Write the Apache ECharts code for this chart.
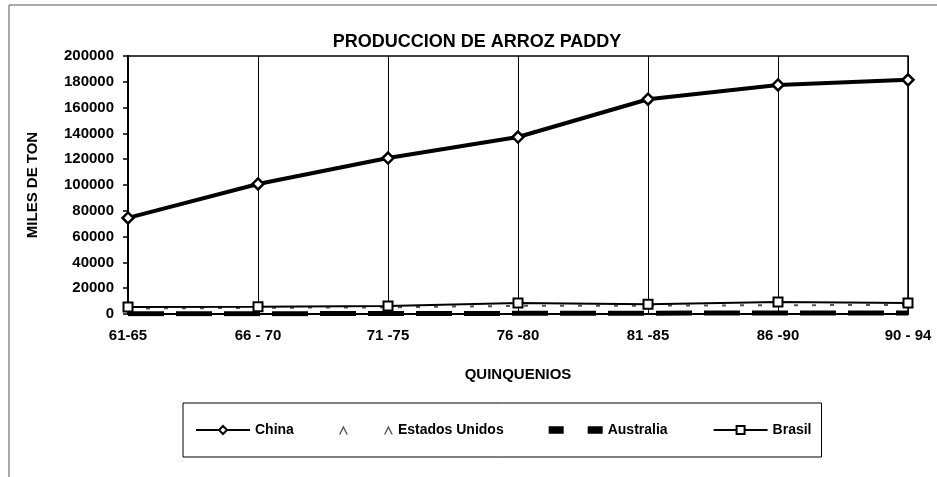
<!DOCTYPE html>
<html>
<head>
<meta charset="utf-8">
<script src="https://cdn.jsdelivr.net/npm/echarts@6/dist/echarts.min.js"></script>
<style>
  html, body { margin: 0; padding: 0; background: #fff; }
  #chart { width: 937px; height: 477px; }
</style>
</head>
<body>
<div id="chart"></div>
<script>
// datos
const quinquenios = ['61-65', '66 - 70', '71 -75', '76 -80', '81 -85', '86 -90', '90 - 94']
const china = [74500, 100800, 120900, 137200, 166500, 177600, 181500]
const estadosUnidos = [4200, 4800, 5200, 6300, 6500, 6800, 7000]
const australia = [200, 250, 350, 500, 650, 750, 850]
const brasil = [5500, 5600, 6200, 8500, 7500, 9300, 8500]

const chart = echarts.init(document.getElementById('chart'))
const font = 'Arial, "Liberation Sans", sans-serif'
const bold = { fontWeight: 'bold', color: '#000', fontFamily: font }

chart.setOption({
  animation: false,
  textStyle: { fontFamily: font, color: '#000' },
  title: {
    text: 'PRODUCCION DE ARROZ PADDY',
    left: 472,
    top: 28,
    textAlign: 'center',
    textStyle: Object.assign({ fontSize: 18 }, bold)
  },
  graphic: [
    // marco exterior
    { type: 'line', shape: { x1: 9, y1: 5, x2: 937, y2: 5 }, style: { stroke: '#555', lineWidth: 1 } },
    { type: 'line', shape: { x1: 9, y1: 5, x2: 9, y2: 477 }, style: { stroke: '#555', lineWidth: 1 } }
  ],
  grid: {
    left: 128,
    right: 29,
    top: 56,
    bottom: 163,
    show: true,
    borderColor: '#000',
    borderWidth: 1.5
  },
  legend: {
    left: 183,
    top: 403,
    padding: [20, 10, 20, 12],
    borderColor: '#000',
    borderWidth: 1,
    itemGap: 45,
    itemWidth: 54,
    itemHeight: 10,
    textStyle: Object.assign({ fontSize: 14 }, bold),
    data: [
      { name: 'China' },
      { name: 'Estados Unidos', icon: 'path://M0,6 L3,0 L6,6 L5,6 L3,2 L1,6 Z M30,6 L33,0 L36,6 L35,6 L33,2 L31,6 Z' },
      { name: 'Australia', icon: 'path://M0,0 H10 V5 H0 Z M26,0 H36 V5 H26 Z' },
      { name: 'Brasil' }
    ]
  },
  xAxis: {
    type: 'category',
    data: quinquenios,
    boundaryGap: false,
    name: 'QUINQUENIOS',
    nameLocation: 'middle',
    nameGap: 53,
    nameTextStyle: Object.assign({ fontSize: 15 }, bold),
    axisLine: { lineStyle: { color: '#000', width: 2 } },
    axisTick: { show: false },
    axisLabel: Object.assign({ fontSize: 15, margin: 14 }, bold),
    splitLine: { show: true, lineStyle: { color: '#000', width: 1 } }
  },
  yAxis: {
    type: 'value',
    min: 0,
    max: 200000,
    interval: 20000,
    name: 'MILES DE TON',
    nameLocation: 'middle',
    nameGap: 88,
    nameTextStyle: Object.assign({ fontSize: 15 }, bold),
    axisLine: { show: true, lineStyle: { color: '#000', width: 2 } },
    axisTick: { show: true, length: 5, lineStyle: { color: '#000', width: 1.5 } },
    axisLabel: Object.assign({ fontSize: 15, margin: 14, formatter: v => String(v) }, bold),
    splitLine: { show: false }
  },
  series: [
    {
      name: 'China',
      type: 'line',
      data: china,
      symbol: 'diamond',
      symbolSize: 11,
      itemStyle: { color: '#fff', borderColor: '#000', borderWidth: 2.5 },
      lineStyle: { color: '#000', width: 4 },
      z: 5
    },
    {
      name: 'Estados Unidos',
      type: 'line',
      data: estadosUnidos,
      symbol: 'none',
      itemStyle: { color: '#555' },
      lineStyle: { color: '#555', width: 2, type: [4, 14] },
      z: 3
    },
    {
      name: 'Australia',
      type: 'line',
      data: australia,
      symbol: 'none',
      itemStyle: { color: '#000' },
      lineStyle: { color: '#000', width: 5, type: [36, 12] },
      z: 3
    },
    {
      name: 'Brasil',
      type: 'line',
      data: brasil,
      symbol: 'rect',
      symbolSize: 9,
      itemStyle: { color: '#fff', borderColor: '#000', borderWidth: 2 },
      lineStyle: { color: '#000', width: 2 },
      z: 4
    }
  ]
})
</script>
</body>
</html>
